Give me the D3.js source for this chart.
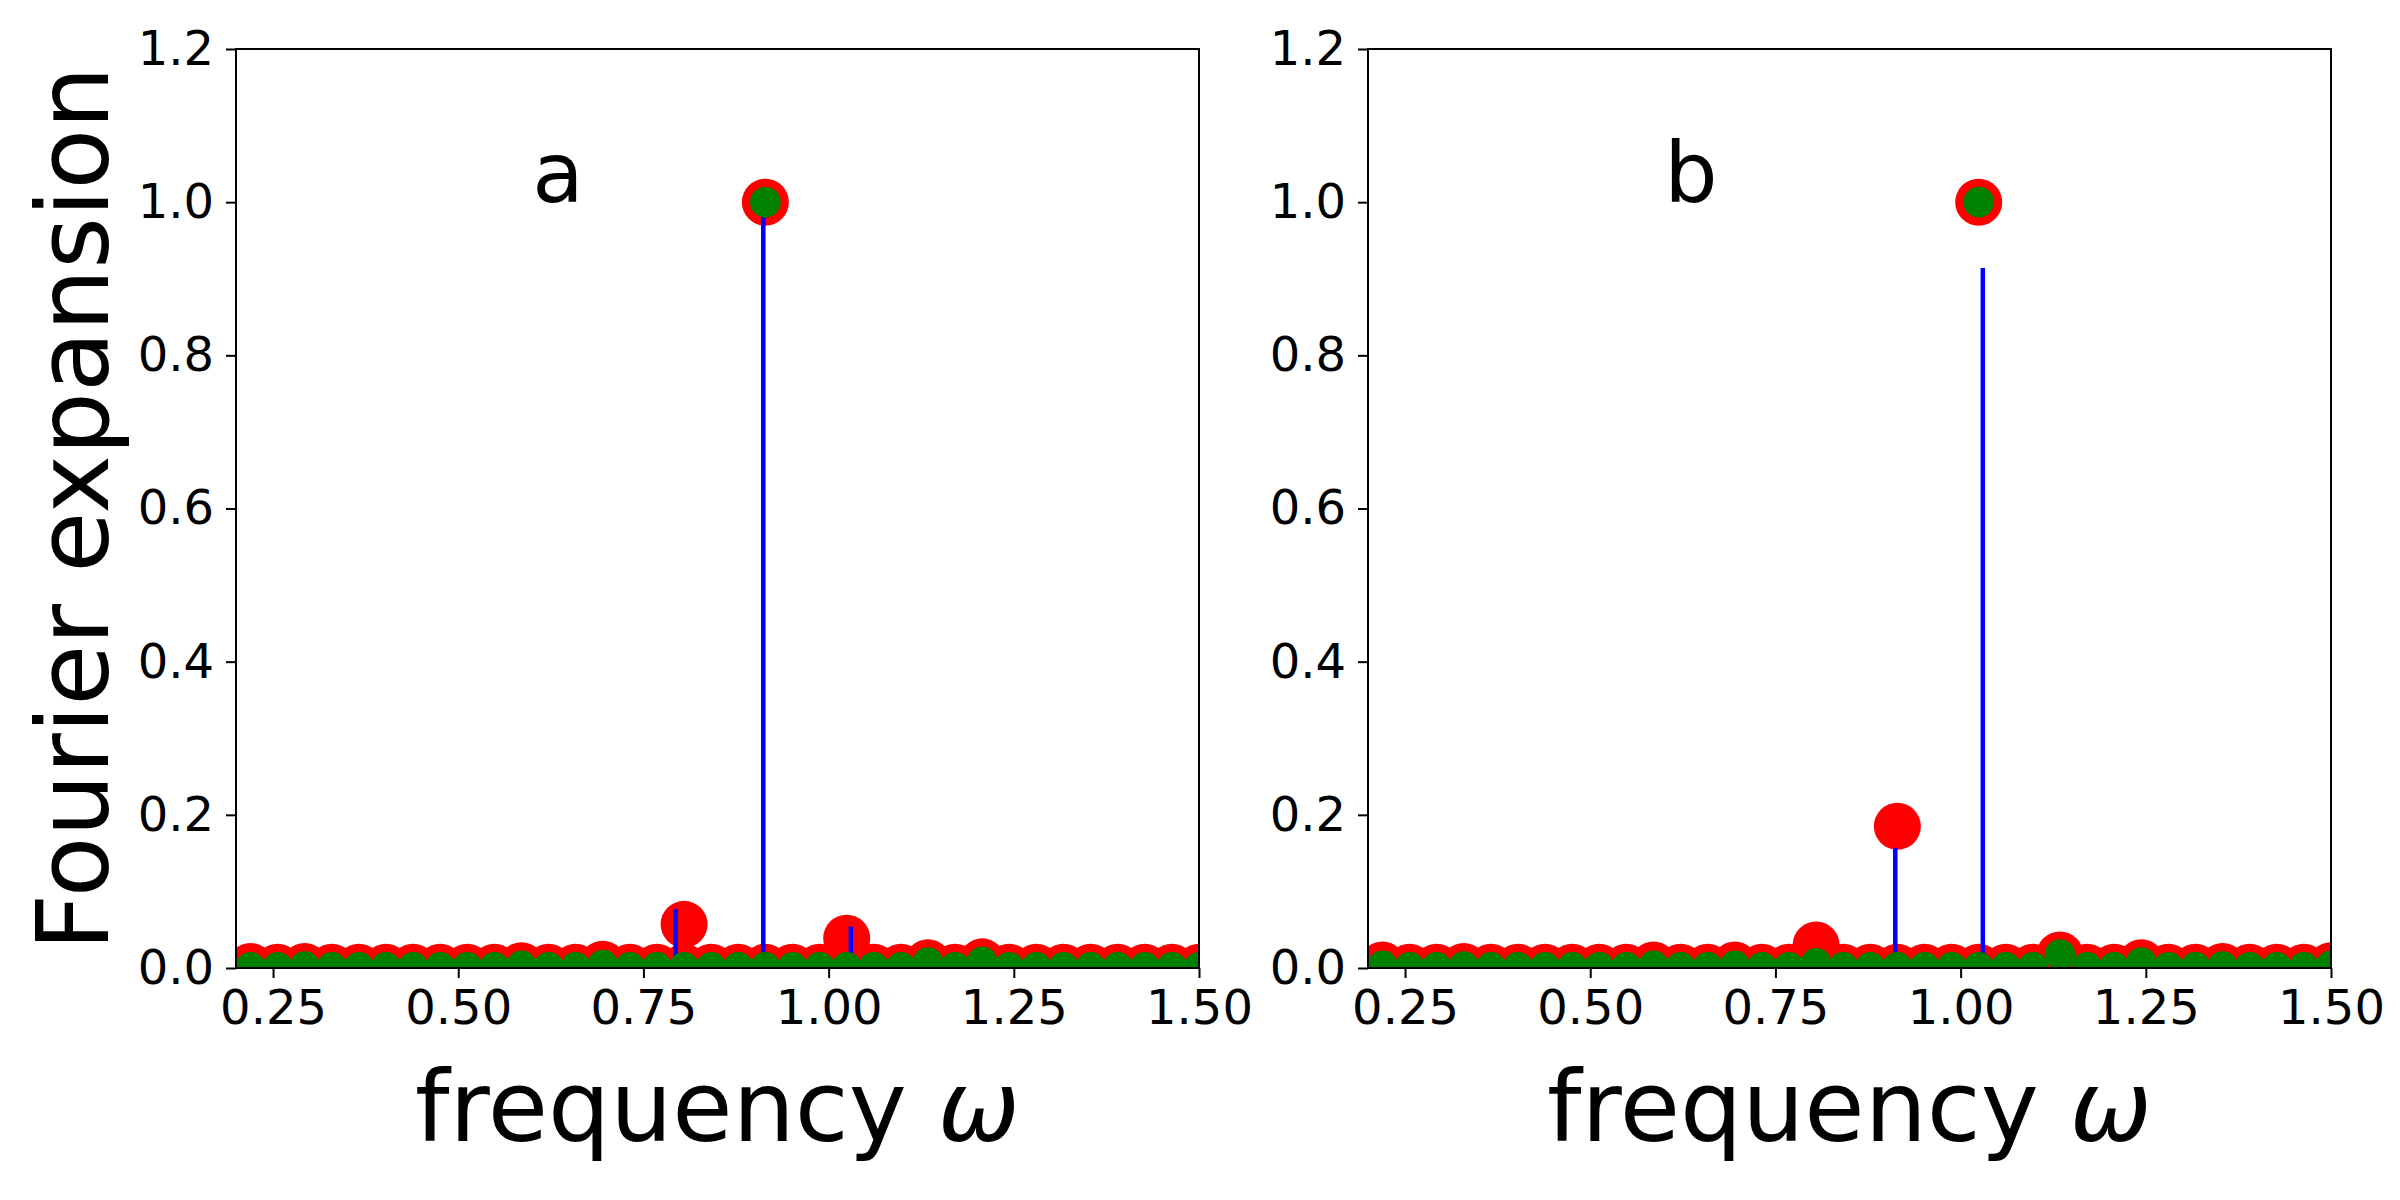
<!DOCTYPE html>
<html>
<head>
<meta charset="utf-8">
<script src="https://cdn.jsdelivr.net/npm/d3@7"></script>
<style>
  body { margin: 0; background: #fff; }
  svg { display: block; font-family: "DejaVu Sans", sans-serif; }
</style>
</head>
<body>
<div id="vis"></div>
<script>
// frequency grid of the red / green dots
var freqs = [0.2195, 0.2561, 0.2927, 0.3293, 0.3659, 0.4024, 0.4390, 0.4756, 0.5122,
  0.5488, 0.5854, 0.6220, 0.6585, 0.6951, 0.7317, 0.7683, 0.8049, 0.8415, 0.8780,
  0.9146, 0.9512, 0.9878, 1.0244, 1.0610, 1.0976, 1.1341, 1.1707, 1.2073, 1.2439,
  1.2805, 1.3171, 1.3537, 1.3902, 1.4268, 1.4634, 1.5000];

// panel a : grid values (near zero) + the raised dots
var redA = [0.002, 0.001, 0.002, 0.001, 0.001, 0.001, 0.001, 0.001, 0.001,
  0.001, 0.003, 0.001, 0.001, 0.005, 0.001, 0.001, 0.001, 0.001, 0.001,
  0.001, 0.001, 0.001, 0.001, 0.001, 0.001, 0.007, 0.001, 0.008, 0.001,
  0.001, 0.001, 0.001, 0.001, 0.001, 0.001, 0.001];
var greenA = [0.001, 0.001, 0.002, 0.001, 0.001, 0.001, 0.001, 0.001, 0.001,
  0.001, 0.003, 0.001, 0.001, 0.004, 0.001, 0.001, 0.001, 0.001, 0.001,
  0.001, 0.001, 0.001, 0.001, 0.001, 0.001, 0.007, 0.001, 0.008, 0.001,
  0.001, 0.001, 0.001, 0.001, 0.001, 0.001, 0.001];
var peakRedFreqA = [0.8049, 0.9146, 1.0244];
var peakRedA = [0.057, 1.000, 0.039];
var peakGreenFreqA = [0.9146];
var peakGreenA = [1.000];
var stemFreqA = [0.7935, 0.9118, 1.0300];
var stemA = [0.077, 0.99, 0.054];

// panel b
var redB = [0.004, 0.001, 0.001, 0.002, 0.001, 0.001, 0.001, 0.001, 0.001,
  0.001, 0.004, 0.001, 0.001, 0.004, 0.001, 0.001, 0.001, 0.001, 0.001,
  0.001, 0.001, 0.001, 0.001, 0.001, 0.001, 0.017, 0.001, 0.001, 0.007,
  0.001, 0.001, 0.002, 0.001, 0.001, 0.001, 0.003];
var greenB = [0.003, 0.001, 0.001, 0.002, 0.001, 0.001, 0.001, 0.001, 0.001,
  0.001, 0.003, 0.001, 0.001, 0.003, 0.001, 0.001, 0.006, 0.001, 0.001,
  0.001, 0.001, 0.001, 0.001, 0.001, 0.001, 0.0175, 0.001, 0.001, 0.007,
  0.001, 0.001, 0.002, 0.001, 0.001, 0.001, 0.003];
var peakRedFreqB = [0.8049, 0.9146, 1.0244];
var peakRedB = [0.030, 0.185, 1.000];
var peakGreenFreqB = [1.0244];
var peakGreenB = [1.000];
var stemFreqB = [0.9118, 1.0300];
var stemB = [0.157, 0.914];

var xTicks = [0.25, 0.50, 0.75, 1.00, 1.25, 1.50];
var yTicks = [0.0, 0.2, 0.4, 0.6, 0.8, 1.0, 1.2];

(function () {
  var panels = [
    { id: 'a', left: 236, red: redA, green: greenA,
      prf: peakRedFreqA, pr: peakRedA, pgf: peakGreenFreqA, pg: peakGreenA,
      sf: stemFreqA, sv: stemA },
    { id: 'b', left: 1368, red: redB, green: greenB,
      prf: peakRedFreqB, pr: peakRedB, pgf: peakGreenFreqB, pg: peakGreenB,
      sf: stemFreqB, sv: stemB }
  ];

  var width = 2400, height = 1200;
  var plotW = 963, marginTop = 49, plotH = 919;

  var svg = d3.select('#vis').append('svg')
    .attr('width', width)
    .attr('height', height);

  function dots(sel, cls, fx, vals, r, color) {
    sel.selectAll('.' + cls).data(vals).enter().append('circle')
      .attr('class', cls)
      .attr('cx', function (d, i) { return fx(i); })
      .attr('cy', function (d) { return d; })
      .attr('r', r)
      .attr('fill', color);
  }

  panels.forEach(function (p) {
    var x = d3.scaleLinear().domain([0.2, 1.5]).range([0, plotW]);
    var y = d3.scaleLinear().domain([0, 1.2]).range([plotH, 0]);

    var g = svg.append('g')
      .attr('transform', 'translate(' + p.left + ',' + marginTop + ')');

    g.append('clipPath').attr('id', 'clip-' + p.id)
      .append('rect').attr('width', plotW).attr('height', plotH);

    var data = g.append('g').attr('clip-path', 'url(#clip-' + p.id + ')');

    // red dots
    dots(data, 'red', function (i) { return x(freqs[i]); }, p.red.map(y), 23.5, '#ff0000');
    dots(data, 'redpk', function (i) { return x(p.prf[i]); }, p.pr.map(y), 23.5, '#ff0000');

    // blue stems
    data.selectAll('.stem').data(p.sv).enter().append('line')
      .attr('class', 'stem')
      .attr('x1', function (d, i) { return x(p.sf[i]); })
      .attr('x2', function (d, i) { return x(p.sf[i]); })
      .attr('y1', y(0))
      .attr('y2', function (d) { return y(d); })
      .attr('stroke', '#0000ff')
      .attr('stroke-width', 4.5);

    // green dots
    dots(data, 'green', function (i) { return x(freqs[i]); }, p.green.map(y), 15.3, '#008000');
    dots(data, 'greenpk', function (i) { return x(p.pgf[i]); }, p.pg.map(y), 15.3, '#008000');

    // frame
    g.append('rect')
      .attr('width', plotW).attr('height', plotH)
      .attr('fill', 'none').attr('stroke', '#000').attr('stroke-width', 2);

    var xAxis = g.append('g')
      .attr('transform', 'translate(0,' + plotH + ')')
      .call(d3.axisBottom(x).tickValues(xTicks).tickFormat(d3.format('.2f'))
        .tickSize(10).tickPadding(12));
    var yAxis = g.append('g')
      .call(d3.axisLeft(y).tickValues(yTicks).tickFormat(d3.format('.1f'))
        .tickSize(10).tickPadding(12));

    [xAxis, yAxis].forEach(function (ax) {
      ax.select('.domain').remove();
      ax.selectAll('line').attr('stroke', '#000').attr('stroke-width', 2);
      ax.selectAll('text')
        .attr('fill', '#000')
        .style('font-size', '48px')
        .style('font-family', '"DejaVu Sans", sans-serif');
    });

    // panel label
    g.append('text')
      .attr('x', x(0.6))
      .attr('y', y(1.0))
      .style('font-size', '84px')
      .text(p.id);

    // x label
    var xl = g.append('text')
      .attr('x', plotW / 2)
      .attr('y', 1141 - marginTop)
      .attr('text-anchor', 'middle')
      .style('font-size', '98px');
    xl.append('tspan').text('frequency ');
    xl.append('tspan').style('font-style', 'italic').text('\u03c9');
  });

  // y label
  svg.append('text')
    .attr('transform', 'translate(108,' + (marginTop + plotH / 2) + ') rotate(-90)')
    .attr('text-anchor', 'middle')
    .style('font-size', '99px')
    .text('Fourier expansion');
})();
</script>
</body>
</html>
